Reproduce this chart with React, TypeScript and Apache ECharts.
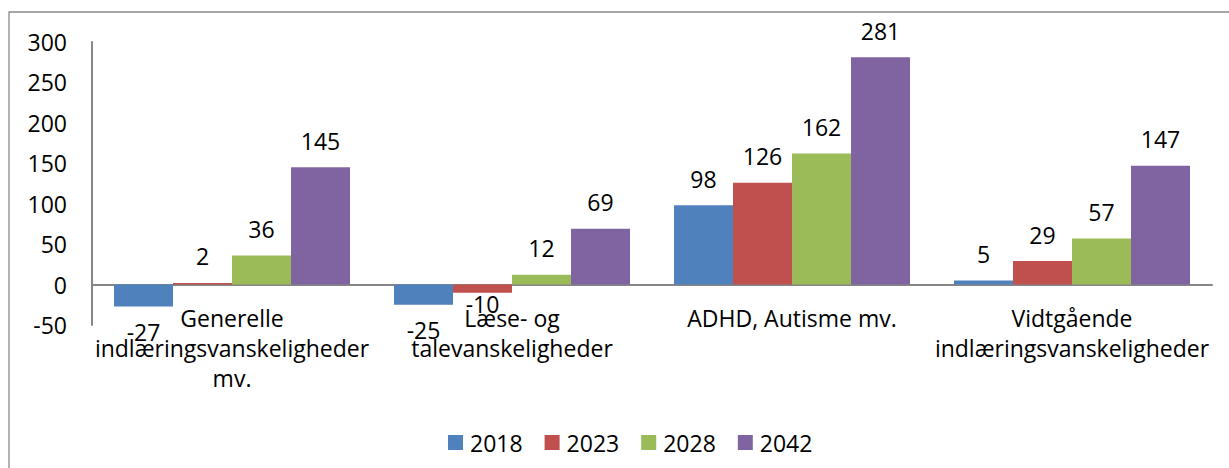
import React, { useEffect, useRef } from "react";
import * as echarts from "echarts";

const categories = [
  "Generelle\nindlæringsvanskeligheder\nmv.",
  "Læse- og\ntalevanskeligheder",
  "ADHD, Autisme mv.",
  "Vidtgående\nindlæringsvanskeligheder",
];
const seriesNames = ["2018", "2023", "2028", "2042"];
const values2018 = [-27, -25, 98, 5];
const values2023 = [2, -10, 126, 29];
const values2028 = [36, 12, 162, 57];
const values2042 = [145, 69, 281, 147];
const colors = ["#4F81BD", "#C0504D", "#9BBB59", "#8064A2"];
const yMin = -50;
const yMax = 300;
const yStep = 50;

const FONT = "'Open Sans', sans-serif";

export default function App() {
  const ref = useRef<HTMLDivElement>(null);
  useEffect(() => {
    if (!ref.current) return;
    const chart = echarts.init(ref.current, undefined, { renderer: "svg" });
    const all = [values2018, values2023, values2028, values2042];
    chart.setOption({
      animation: false,
      textStyle: { fontFamily: FONT },
      graphic: [
        {
          type: "rect",
          shape: { x: 9, y: 12, width: 1260, height: 500 },
          style: { fill: "none", stroke: "#8a8a8a", lineWidth: 1.3 },
          silent: true,
        },
      ],
      grid: { left: 92, right: 17, top: 42, bottom: 143, containLabel: false },
      legend: {
        left: 443,
        top: 426,
        itemWidth: 15,
        itemHeight: 15,
        itemGap: 22,
        icon: "rect",
        textStyle: { fontSize: 23, color: "#000", fontFamily: FONT, padding: [0, 0, 0, 2] },
        data: seriesNames,
      },
      xAxis: {
        type: "category",
        data: categories,
        axisLine: { show: true, onZero: true, lineStyle: { color: "#868686", width: 2 } },
        axisTick: { show: false },
        axisLabel: {
          interval: 0,
          margin: -22,
          fontSize: 23,
          lineHeight: 30,
          color: "#000",
          fontFamily: FONT,
          verticalAlign: "top",
        },
      },
      yAxis: {
        type: "value",
        min: yMin,
        max: yMax,
        interval: yStep,
        axisLine: { show: true, lineStyle: { color: "#868686", width: 2 } },
        axisTick: { show: false },
        splitLine: { show: false },
        axisLabel: { fontSize: 23, color: "#000", margin: 25, fontFamily: FONT },
      },
      series: all.map((vals, i) => ({
        name: seriesNames[i],
        type: "bar",
        data: vals.map((v) => ({
          value: v,
          label: {
            show: true,
            position: v < 0 ? "bottom" : "top",
            distance: v < 0 ? (v > -15 ? 0 : 14) : 15,
            fontSize: 23,
            color: "#000",
            fontFamily: FONT,
          },
        })),
        itemStyle: { color: colors[i] },
        barGap: "0%",
        barCategoryGap: "15.7%",
      })),
    });
    return () => chart.dispose();
  }, []);
  return (
    <div
      ref={ref}
      style={{ position: "fixed", left: 0, top: 0, width: 1229, height: 468, background: "#fff" }}
    />
  );
}
